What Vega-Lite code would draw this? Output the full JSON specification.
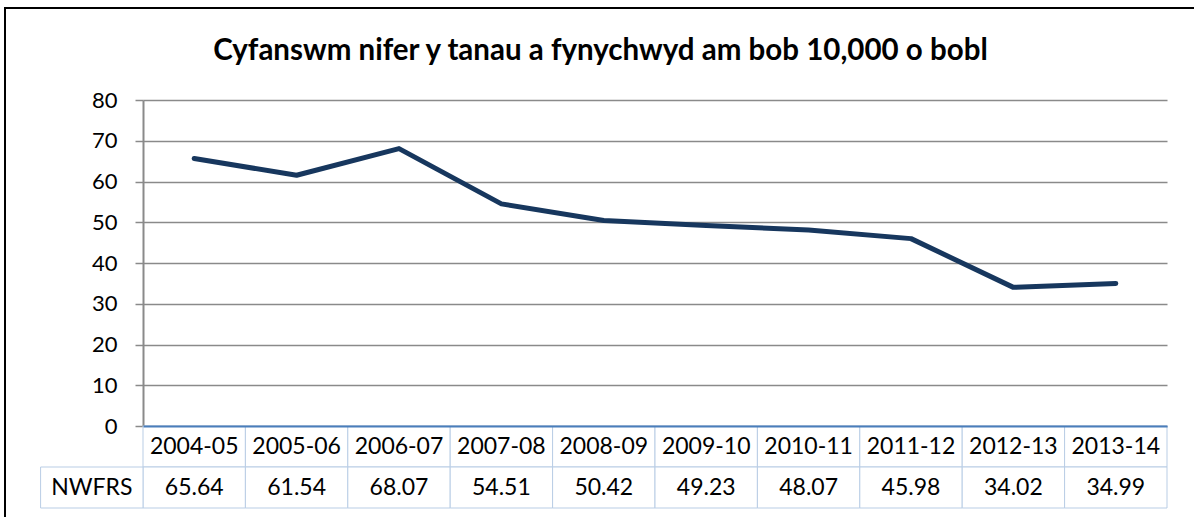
{
  "$schema": "https://vega.github.io/schema/vega-lite/v6.json",
  "width": 1191,
  "height": 511,
  "autosize": {"type": "none"},
  "padding": {"left": 5, "top": 8, "right": 0, "bottom": 0},
  "background": "white",
  "config": {"view": {"stroke": "#000000", "strokeWidth": 2, "fill": "white"}, "font": "Lato"},
  "title": {"text": "Cyfanswm nifer y tanau a fynychwyd am bob 10,000 o bobl", "font": "Lato", "fontSize": 29.5, "fontWeight": "bold", "color": "#000000", "anchor": "middle", "frame": "group", "offset": -58},
  "data": {"values": [
    {"year": "2004-05", "value": 65.64},
    {"year": "2005-06", "value": 61.54},
    {"year": "2006-07", "value": 68.07},
    {"year": "2007-08", "value": 54.51},
    {"year": "2008-09", "value": 50.42},
    {"year": "2009-10", "value": 49.23},
    {"year": "2010-11", "value": 48.07},
    {"year": "2011-12", "value": 45.98},
    {"year": "2012-13", "value": 34.02},
    {"year": "2013-14", "value": 34.99}
  ]},
  "layer": [
    {
      "layer": [
        {
          "mark": {"type": "line", "color": "#17375E", "strokeWidth": 5, "strokeJoin": "round", "strokeCap": "round"},
          "encoding": {
            "x": {"field": "year", "type": "nominal", "sort": null,
              "scale": {"type": "band", "range": [138, 1162], "paddingInner": 0, "paddingOuter": 0},
              "axis": {"orient": "top", "offset": -418, "labels": false, "ticks": false, "grid": false, "title": null, "domainColor": "#4A7EBB", "domainWidth": 2, "zindex": 3}},
            "y": {"field": "value", "type": "quantitative",
              "scale": {"domain": [0, 80], "range": [418, 92], "nice": false, "zero": true},
              "axis": {"orient": "left", "offset": -138, "values": [0, 10, 20, 30, 40, 50, 60, 70, 80], "title": null, "grid": true, "gridColor": "#8A8A8A", "gridWidth": 1.5, "domainColor": "#8A8A8A", "domainWidth": 2, "tickColor": "#8A8A8A", "tickSize": 8, "tickWidth": 1.5, "labelFont": "Lato", "labelFontSize": 22, "labelColor": "#000000", "labelPadding": 18}}
          }
        }
      ]
    },
    {
      "layer": [
        {
          "mark": {"type": "rect", "fill": "white", "stroke": "#B9CDE5", "strokeWidth": 1},
          "encoding": {
            "x": {"field": "year", "type": "nominal", "sort": null,
              "scale": {"type": "band", "domain": ["NWFRS", "2004-05", "2005-06", "2006-07", "2007-08", "2008-09", "2009-10", "2010-11", "2011-12", "2012-13", "2013-14"], "range": [35.6, 1162], "paddingInner": 0, "paddingOuter": 0},
              "axis": null},
            "y": {"datum": "year", "type": "nominal",
              "scale": {"type": "band", "domain": ["year", "value"], "range": [418, 500], "paddingInner": 0, "paddingOuter": 0},
              "axis": null}
          }
        },
        {
          "mark": {"type": "rect", "fill": "white", "stroke": "#B9CDE5", "strokeWidth": 1},
          "encoding": {
            "x": {"field": "year", "type": "nominal", "sort": null, "axis": null},
            "y": {"datum": "value", "type": "nominal", "axis": null}
          }
        },
        {
          "data": {"values": [{"label": "NWFRS"}]},
          "layer": [
            {
              "mark": {"type": "rect", "fill": "white", "stroke": "#B9CDE5", "strokeWidth": 1},
              "encoding": {
                "x": {"field": "label", "type": "nominal", "axis": null},
                "y": {"datum": "value", "type": "nominal", "axis": null}
              }
            },
            {
              "mark": {"type": "text", "font": "Lato", "fontSize": 23, "color": "#000000", "align": "center", "baseline": "middle"},
              "encoding": {
                "x": {"field": "label", "type": "nominal", "axis": null},
                "y": {"datum": "value", "type": "nominal", "axis": null},
                "text": {"field": "label"}
              }
            }
          ]
        },
        {
          "mark": {"type": "text", "font": "Lato", "fontSize": 23, "color": "#000000", "align": "center", "baseline": "middle"},
          "encoding": {
            "x": {"field": "year", "type": "nominal", "sort": null, "axis": null},
            "y": {"datum": "year", "type": "nominal", "axis": null},
            "text": {"field": "year"}
          }
        },
        {
          "mark": {"type": "text", "font": "Lato", "fontSize": 23, "color": "#000000", "align": "center", "baseline": "middle"},
          "encoding": {
            "x": {"field": "year", "type": "nominal", "sort": null, "axis": null},
            "y": {"datum": "value", "type": "nominal", "axis": null},
            "text": {"field": "value", "format": ".2f"}
          }
        }
      ]
    }
  ],
  "resolve": {"scale": {"x": "independent", "y": "independent"}, "axis": {"x": "independent", "y": "independent"}}
}
